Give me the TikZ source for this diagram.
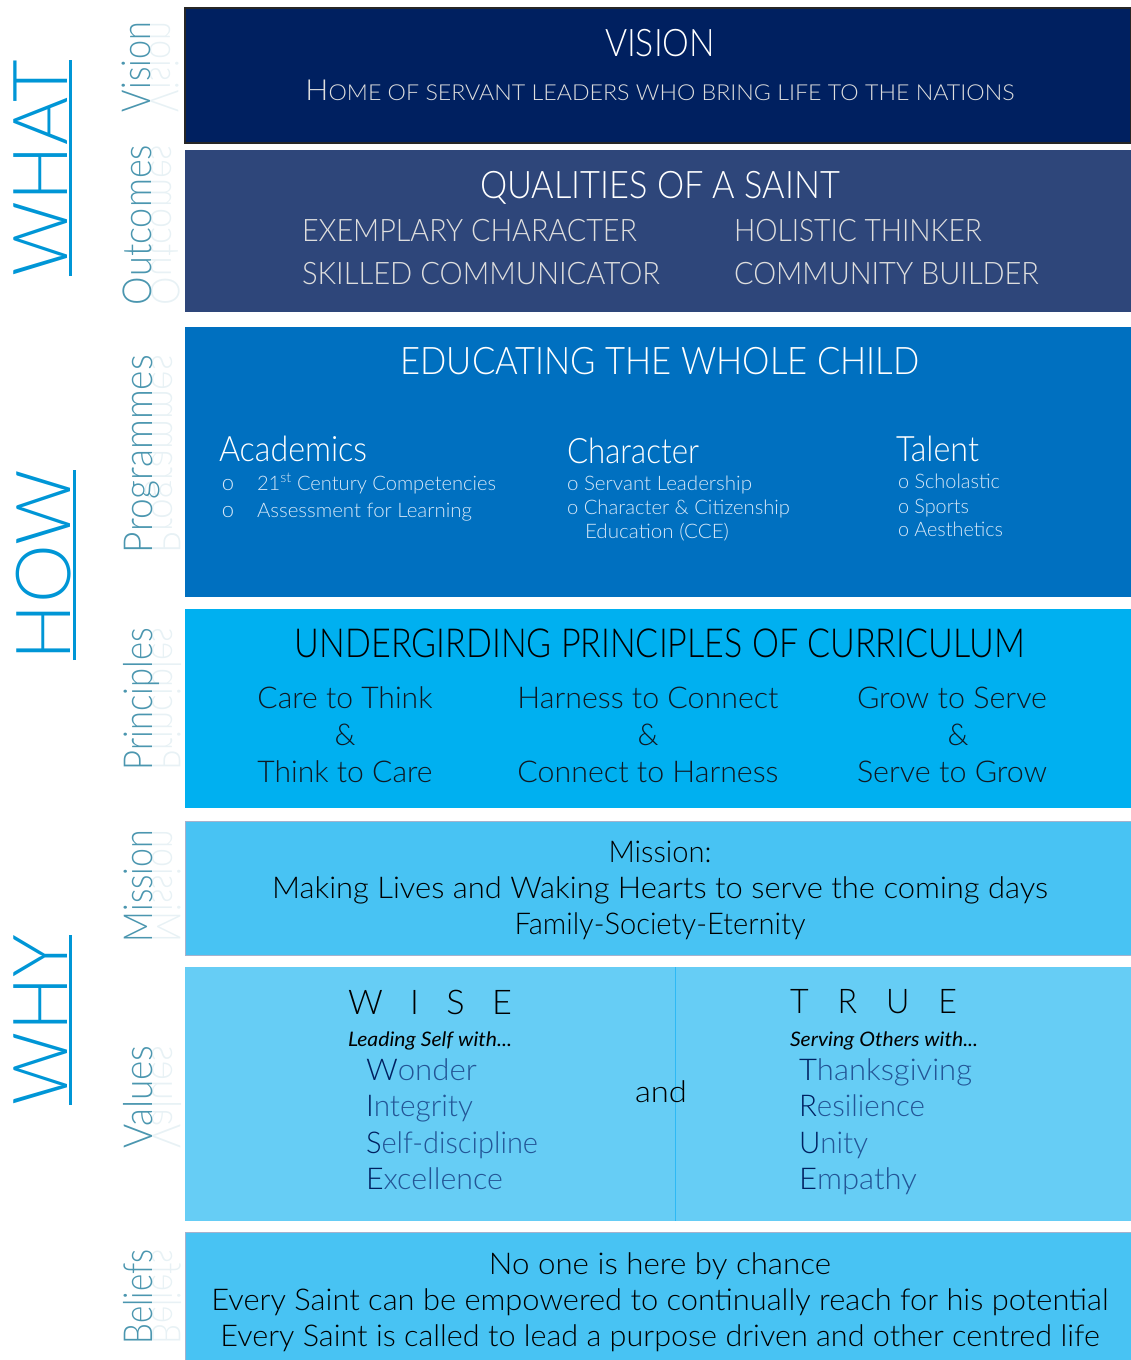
\documentclass[tikz,border=0pt]{standalone}
\usepackage{fontspec}
\usepackage{graphicx}
\IfFontExistsTF{Lato Light}{\setmainfont{Lato Light}}{\setmainfont{Lato}}
\newfontfamily\regfont{Lato}
\definecolor{cVision}{RGB}{0,32,96}
\definecolor{cQual}{RGB}{46,70,122}
\definecolor{cProg}{RGB}{0,112,192}
\definecolor{cPrin}{RGB}{0,176,240}
\definecolor{cMiss}{RGB}{72,195,243}
\definecolor{cVal}{RGB}{102,205,245}
\definecolor{cValLine}{RGB}{45,185,245}
\definecolor{cBorder}{RGB}{165,178,205}
\definecolor{cBig}{RGB}{0,150,214}
\definecolor{cSide}{RGB}{75,150,175}
\definecolor{cQtxt}{RGB}{222,222,222}
\definecolor{cSub}{RGB}{215,232,248}
\definecolor{cDark}{RGB}{0,32,96}
\definecolor{cMid}{RGB}{35,85,150}
\definecolor{cPtxt}{RGB}{15,25,35}
\newcommand\fw[2]{\resizebox{#1pt}{\height}{#2}}
\newcommand\fs[1]{\fontsize{#1}{#1}\selectfont}
\tikzset{
  txt/.style={inner sep=0pt, outer sep=0pt},
  bigword/.style={txt, rotate=90, anchor=base, text=cBig},
  sidelbl/.style={txt, rotate=90, anchor=base, text=cSide},
  sidemirror/.style={txt, rotate=90, anchor=base, text=cSide, opacity=0.13},
  ul/.style={cBig, line width=3pt},
}
\begin{document}
\begin{tikzpicture}[x=1pt,y=-1pt]
\useasboundingbox (0,0) rectangle (1131,1360);
% ---------- bands ----------
\fill[cVision] (185,8) rectangle (1131,143);
\draw[black!85, line width=1.5pt] (185,8) rectangle (1131,143);
\fill[cQual] (185,150) rectangle (1131,312);
\fill[cProg] (185,327) rectangle (1131,597);
\fill[cPrin] (185,609) rectangle (1131,808);
\fill[cMiss] (185,821) rectangle (1131,955);
\draw[cBorder, line width=1pt] (185,821) rectangle (1131,955);
\fill[cVal] (185,967) rectangle (1131,1221);
\draw[cValLine, line width=1pt] (675,967) -- (675,1221);
\fill[cMiss] (185,1232) rectangle (1131,1360);
\draw[cBorder, line width=1pt] (185,1360) -- (185,1232) -- (1131,1232);

% ---------- big left words ----------
\node[bigword] (what) at (67,168) {\fs{76}\fw{216}{WHAT}};
\draw[ul] ([xshift=3pt]what.base west) -- ([xshift=3pt]what.base east);
\node[bigword] (how) at (70,565) {\fs{76}\fw{190}{HOW}};
\draw[ul] ([xshift=4pt]how.base west) -- ([xshift=4pt]how.base east);
\node[bigword] (why) at (67,1020) {\fs{76}\fw{170}{WHY}};
\draw[ul] ([xshift=3pt]why.base west) -- ([xshift=3pt]why.base east);

% ---------- side labels ----------
\node[sidelbl] (lvision) at (150,67) {\fs{40}\fw{90}{Vision}};
\node[sidemirror] (mvision) at (150,67) {\fs{40}\fw{90}{\scalebox{1}[-1]{Vision}}};
\node[sidelbl] (loutc) at (151,225) {\fs{40}\fw{160}{Outcomes}};
\node[sidemirror] (moutc) at (151,225) {\fs{40}\fw{160}{\scalebox{1}[-1]{Outcomes}}};
\node[sidelbl] (lprog) at (152,454) {\fs{40}\fw{198}{Programmes}};
\node[sidemirror] (mprog) at (152,454) {\fs{40}\fw{198}{\scalebox{1}[-1]{Programmes}}};
\node[sidelbl] (lprin) at (152,699) {\fs{40}\fw{142}{Principles}};
\node[sidemirror] (mprin) at (152,699) {\fs{40}\fw{142}{\scalebox{1}[-1]{Principles}}};
\node[sidelbl] (lmiss) at (152,886) {\fs{40}\fw{112}{Mission}};
\node[sidemirror] (mmiss) at (152,886) {\fs{40}\fw{112}{\scalebox{1}[-1]{Mission}}};
\node[sidelbl] (lval) at (152,1097) {\fs{40}\fw{103}{Values}};
\node[sidemirror] (mval) at (152,1097) {\fs{40}\fw{103}{\scalebox{1}[-1]{Values}}};
\node[sidelbl] (lbel) at (152,1297) {\fs{40}\fw{95}{Beliefs}};
\node[sidemirror] (mbel) at (152,1297) {\fs{40}\fw{95}{\scalebox{1}[-1]{Beliefs}}};

% ---------- vision ----------
\node[txt, anchor=base, text=white] (vision) at (660,56) {\fs{38}\fw{110}{VISION}};
\node[txt, anchor=base, text=cQtxt] (visiontxt) at (660,100)
  {\fw{709}{\fs{29}H\fs{22}OME OF SERVANT LEADERS WHO BRING LIFE TO THE NATIONS}};

% ---------- qualities ----------
\node[txt, anchor=base, text=white] (qual) at (660,198) {\fs{38}\fw{360}{QUALITIES OF A SAINT}};
\node[txt, anchor=base west, text=cQtxt] (q1) at (302,241) {\fs{31}\fw{335}{EXEMPLARY CHARACTER}};
\node[txt, anchor=base west, text=cQtxt] (q2) at (734,241) {\fs{31}\fw{248}{HOLISTIC THINKER}};
\node[txt, anchor=base west, text=cQtxt] (q3) at (302,284) {\fs{31}\fw{358}{SKILLED COMMUNICATOR}};
\node[txt, anchor=base west, text=cQtxt] (q4) at (734,284) {\fs{31}\fw{305}{COMMUNITY BUILDER}};

% ---------- programmes ----------
\node[txt, anchor=base, text=white] (educ) at (660,374) {\fs{38}\fw{519}{EDUCATING THE WHOLE CHILD}};
\node[txt, anchor=base west, text=white] (acad) at (219,461) {\fs{35}\fw{148}{Academics}};
\node[txt, anchor=base, text=cSub] (ab1) at (228,490) {\fs{22}o};
\node[txt, anchor=base west, text=cSub] (a1) at (257,490) {\fs{20}\fw{239}{21\textsuperscript{st} Century Competencies}};
\node[txt, anchor=base, text=cSub] (ab2) at (228,517) {\fs{22}o};
\node[txt, anchor=base west, text=cSub] (a2) at (257,517) {\fs{20}\fw{215}{Assessment for Learning}};
\node[txt, anchor=base west, text=white] (char) at (567,463) {\fs{35}\fw{132}{Character}};
\node[txt, anchor=base west, text=cSub] (c1) at (567,490) {\fs{20}\fw{185}{o Servant Leadership}};
\node[txt, anchor=base west, text=cSub] (c2) at (567,514) {\fs{20}\fw{223}{o Character \& Citizenship}};
\node[txt, anchor=base west, text=cSub] (c3) at (585,538) {\fs{20}\fw{144}{Education (CCE)}};
\node[txt, anchor=base west, text=white] (tal) at (896,461) {\fs{35}\fw{83}{Talent}};
\node[txt, anchor=base west, text=cSub] (t1) at (898,488) {\fs{20}\fw{102}{o Scholastic}};
\node[txt, anchor=base west, text=cSub] (t2) at (898,513) {\fs{20}\fw{71}{o Sports}};
\node[txt, anchor=base west, text=cSub] (t3) at (898,536) {\fs{20}\fw{105}{o Aesthetics}};

% ---------- principles ----------
\node[txt, anchor=base, text=black] (under) at (660,657) {\fs{40}\fw{730}{UNDERGIRDING PRINCIPLES OF CURRICULUM}};
\node[txt, anchor=base, text=cPtxt] (p11) at (345,708) {\fs{30}\fw{175}{Care to Think}};
\node[txt, anchor=base, text=cPtxt] (p12) at (345,745) {\fs{30}\&};
\node[txt, anchor=base, text=cPtxt] (p13) at (345,782) {\fs{30}\fw{175}{Think to Care}};
\node[txt, anchor=base, text=cPtxt] (p21) at (648,708) {\fs{30}\fw{261}{Harness to Connect}};
\node[txt, anchor=base, text=cPtxt] (p22) at (648,745) {\fs{30}\&};
\node[txt, anchor=base, text=cPtxt] (p23) at (648,782) {\fs{30}\fw{261}{Connect to Harness}};
\node[txt, anchor=base, text=cPtxt] (p31) at (952,708) {\fs{30}\fw{190}{Grow to Serve}};
\node[txt, anchor=base, text=cPtxt] (p32) at (958,745) {\fs{30}\&};
\node[txt, anchor=base, text=cPtxt] (p33) at (952,782) {\fs{30}\fw{190}{Serve to Grow}};

% ---------- mission ----------
\node[txt, anchor=base, text=black] (m1) at (660,862) {\fs{30}\fw{103}{Mission:}};
\node[txt, anchor=base, text=black] (m2) at (660,898) {\fs{30}\fw{776}{Making Lives and Waking Hearts to serve the coming days}};
\node[txt, anchor=base, text=black] (m3) at (660,934) {\fs{30}\fw{291}{Family-Society-Eternity}};

% ---------- values ----------
\node[txt, anchor=base west, text=black] (wise) at (348,1014) {\fs{34}\fw{164}{W\hspace{0.8em}I\hspace{0.8em}S\hspace{0.8em}E}};
\node[txt, anchor=base west, text=black] (wisesub) at (348,1046) {\regfont\itshape\fs{20}\fw{164}{Leading Self with...}};
\node[txt, anchor=base west, text=cMid] (w1) at (366,1080) {\fs{30}\fw{111}{\textcolor{cDark}{W}onder}};
\node[txt, anchor=base west, text=cMid] (w2) at (366,1116) {\fs{30}\fw{107}{\textcolor{cDark}{I}ntegrity}};
\node[txt, anchor=base west, text=cMid] (w3) at (366,1153) {\fs{30}\fw{172}{\textcolor{cDark}{S}elf-discipline}};
\node[txt, anchor=base west, text=cMid] (w4) at (366,1189) {\fs{30}\fw{137}{\textcolor{cDark}{E}xcellence}};
\node[txt, anchor=base, text=black] (and) at (661,1102) {\fs{30}\fw{52}{and}};
\node[txt, anchor=base west, text=black] (true) at (790,1013) {\fs{34}\fw{167}{T\hspace{0.9em}R\hspace{0.9em}U\hspace{0.9em}E}};
\node[txt, anchor=base west, text=black] (truesub) at (790,1046) {\regfont\itshape\fs{20}\fw{188}{Serving Others with...}};
\node[txt, anchor=base west, text=cMid] (t1v) at (799,1080) {\fs{30}\fw{173}{\textcolor{cDark}{T}hanksgiving}};
\node[txt, anchor=base west, text=cMid] (t2v) at (799,1116) {\fs{30}\fw{126}{\textcolor{cDark}{R}esilience}};
\node[txt, anchor=base west, text=cMid] (t3v) at (799,1153) {\fs{30}\fw{69}{\textcolor{cDark}{U}nity}};
\node[txt, anchor=base west, text=cMid] (t4v) at (799,1189) {\fs{30}\fw{118}{\textcolor{cDark}{E}mpathy}};

% ---------- beliefs ----------
\node[txt, anchor=base, text=black] (b1) at (660,1274) {\fs{30}\fw{342}{No one is here by chance}};
\node[txt, anchor=base, text=black] (b2) at (660,1310) {\fs{30}\fw{897}{Every Saint can be empowered to continually reach for his potential}};
\node[txt, anchor=base, text=black] (b3) at (660,1346) {\fs{30}\fw{879}{Every Saint is called to lead a purpose driven and other centred life}};
\end{tikzpicture}
\end{document}
